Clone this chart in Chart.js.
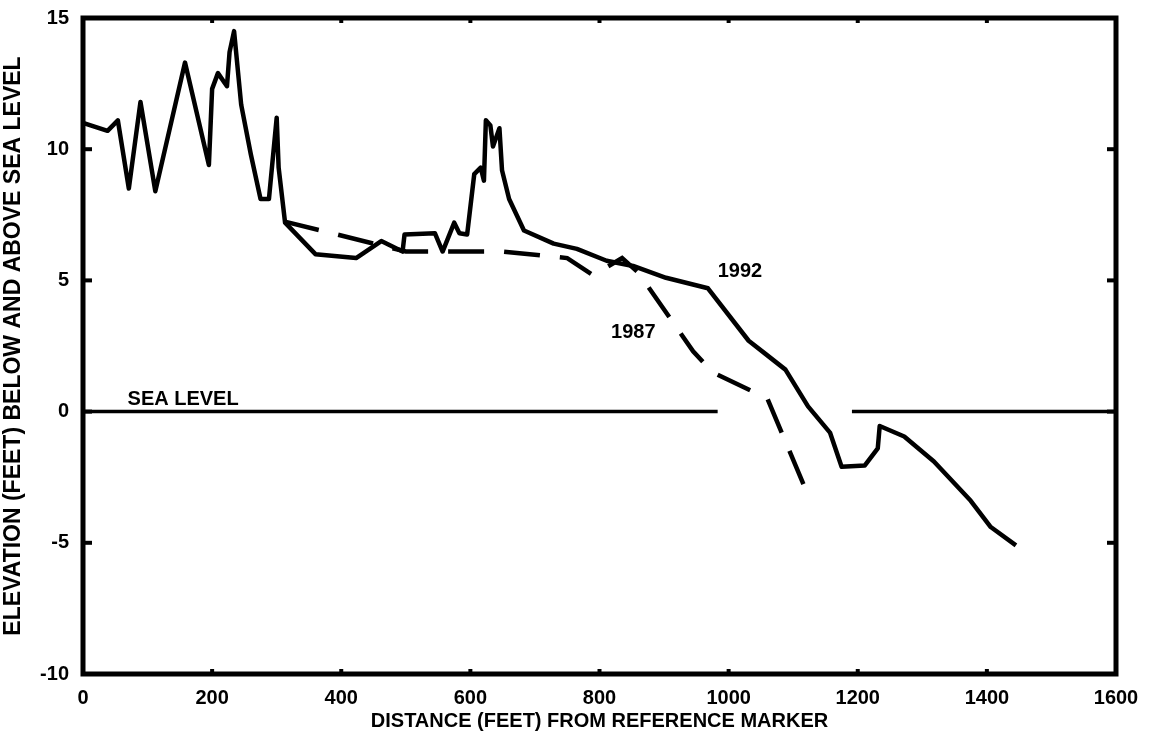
<html>
  <head>
    <script src="https://cdn.jsdelivr.net/npm/chart.js"></script>
    <style>
      body { margin: 0; background: #fff; }
    </style>
  </head>
  <body>
    <canvas id="myChart" width="1149" height="741"></canvas>
    <script>
      // distance (feet) / elevation (feet)
      const dist1992 = [0, 38, 54, 71, 89, 112, 158, 195, 200, 209, 223, 227, 234, 245, 260, 275, 288, 300, 303, 313,
        360, 423, 462, 495, 498, 545, 557, 575, 583, 595, 606, 616, 621, 624, 631, 635, 645, 649, 660, 683,
        729, 765, 811, 852, 903, 968, 1031, 1057, 1088, 1123, 1157, 1175, 1211, 1231, 1234, 1272, 1318, 1375, 1406, 1445];
      const elev1992 = [11.0, 10.7, 11.1, 8.5, 11.8, 8.4, 13.3, 9.4, 12.3, 12.9, 12.4, 13.7, 14.5, 11.7, 9.8, 8.1, 8.1, 11.2, 9.3, 7.2,
        6.0, 5.85, 6.5, 6.1, 6.75, 6.8, 6.1, 7.2, 6.8, 6.75, 9.05, 9.3, 8.8, 11.1, 10.9, 10.1, 10.8, 9.2, 8.1, 6.9,
        6.4, 6.2, 5.75, 5.55, 5.1, 4.7, 2.7, 2.2, 1.6, 0.2, -0.8, -2.1, -2.05, -1.4, -0.55, -0.95, -1.9, -3.4, -4.4, -5.1];

      const dist1987 = [311, 500, 650, 750, 790, 835, 860, 945, 975, 1060, 1125];
      const elev1987 = [7.25, 6.1, 6.1, 5.85, 5.2, 5.85, 5.3, 2.3, 1.5, 0.5, -3.3];

      // sea level line, broken where the profile crosses it
      const seaDist = [0, 983, 1090, 1191, 1600];
      const seaElev = [0, 0, null, 0, 0];

      const xTicks = [0, 200, 400, 600, 800, 1000, 1200, 1400, 1600];
      const yTicks = [-10, -5, 0, 5, 10, 15];

      const toPoints = (xs, ys) => xs.map((x, i) => ({ x: x, y: ys[i] }));

      const FAMILY = '"Liberation Sans", Arial, sans-serif';
      const FONT = { family: FAMILY, weight: 'bold', size: 20 };

      // frame, inward tick marks and the text labels on the plot
      const decorations = {
        id: 'decorations',
        afterDraw(chart) {
          const c = chart.ctx;
          const a = chart.chartArea;
          const xs = chart.scales.x, ys = chart.scales.y;
          c.save();
          c.strokeStyle = '#000';
          c.lineWidth = 5;
          c.strokeRect(a.left, a.top, a.right - a.left, a.bottom - a.top);
          c.lineWidth = 4;
          yTicks.forEach(v => {
            const py = ys.getPixelForValue(v);
            c.beginPath(); c.moveTo(a.left, py); c.lineTo(a.left + 9, py); c.stroke();
            c.beginPath(); c.moveTo(a.right, py); c.lineTo(a.right - 9, py); c.stroke();
          });
          xTicks.forEach(v => {
            const px = xs.getPixelForValue(v);
            c.beginPath(); c.moveTo(px, a.bottom); c.lineTo(px, a.bottom - 5); c.stroke();
            c.beginPath(); c.moveTo(px, a.top); c.lineTo(px, a.top + 5); c.stroke();
          });
          c.fillStyle = '#000';
          c.font = 'bold 20px ' + FAMILY;
          c.textBaseline = 'alphabetic';
          c.fillText('SEA LEVEL', xs.getPixelForValue(69), ys.getPixelForValue(0.25));
          c.textBaseline = 'middle';
          c.fillText('1992', xs.getPixelForValue(983), ys.getPixelForValue(5.35));
          c.fillText('1987', xs.getPixelForValue(818), ys.getPixelForValue(3.0));
          c.restore();
        }
      };

      const config = {
        type: 'line',
        data: {
          datasets: [{
            label: '1992',
            data: toPoints(dist1992, elev1992),
            borderColor: '#000',
            borderWidth: 4.5,
            pointRadius: 0,
            tension: 0,
            borderJoinStyle: 'round'
          }, {
            label: '1987',
            data: toPoints(dist1987, elev1987),
            borderColor: '#000',
            borderWidth: 4.5,
            borderDash: [36, 20],
            pointRadius: 0,
            tension: 0
          }, {
            label: 'Sea level',
            data: toPoints(seaDist, seaElev),
            borderColor: '#000',
            borderWidth: 3.5,
            pointRadius: 0,
            spanGaps: false
          }]
        },
        options: {
          responsive: false,
          animation: false,
          layout: { padding: { top: 11, right: 33 } },
          plugins: { legend: { display: false }, tooltip: { enabled: false } },
          scales: {
            x: {
              type: 'linear',
              min: 0,
              max: 1600,
              afterBuildTicks: s => { s.ticks = xTicks.map(v => ({ value: v })); },
              afterFit: s => { s.height = 67; },
              grid: { display: false },
              border: { display: false },
              ticks: { color: '#000', font: FONT, padding: 4, maxRotation: 0, callback: v => String(v) },
              title: { display: true, text: 'DISTANCE (FEET) FROM REFERENCE MARKER', color: '#000', font: FONT, padding: { top: 0, bottom: 8 } }
            },
            y: {
              min: -10,
              max: 15,
              afterBuildTicks: s => { s.ticks = yTicks.map(v => ({ value: v })); },
              afterFit: s => { s.width = 83; },
              grid: { display: false },
              border: { display: false },
              ticks: { color: '#000', font: FONT, padding: 6, callback: v => String(v) },
              title: { display: true, text: 'ELEVATION (FEET) BELOW AND ABOVE SEA LEVEL', color: '#000', font: { family: FAMILY, weight: 'bold', size: 23 }, padding: 0 }
            }
          }
        },
        plugins: [decorations]
      };

      const ctx = document.getElementById('myChart').getContext('2d');
      const myChart = new Chart(ctx, config);
    </script>
  </body>
</html>
